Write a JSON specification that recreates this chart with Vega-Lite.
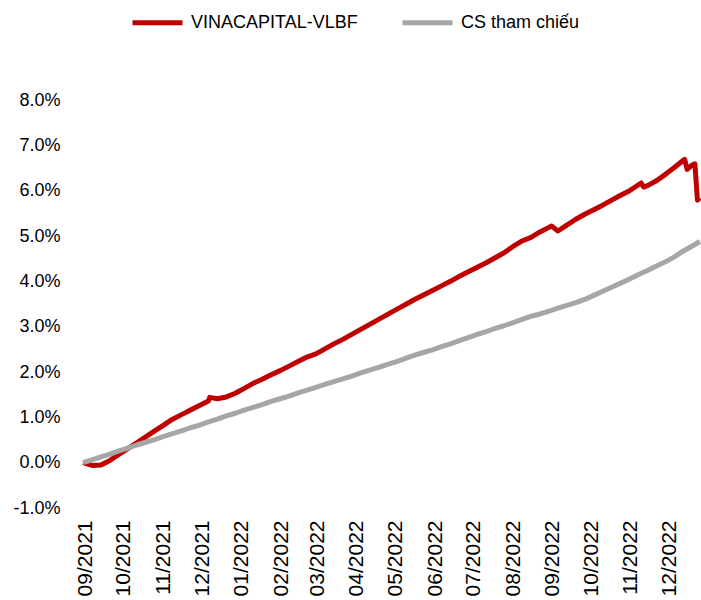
{
  "$schema": "https://vega.github.io/schema/vega-lite/v6.json",
  "width": 617,
  "height": 408,
  "autosize": {"type": "none"},
  "padding": {"left": 83, "top": 100, "right": 1, "bottom": 92},
  "background": "white",
  "config": {
    "view": {"stroke": null},
    "font": "Liberation Sans"
  },
  "datasets": {
    "red": [
      {"d":"2021-08-30","s":"VINACAPITAL-VLBF","v":0},
      {"d":"2021-09-06","s":"VINACAPITAL-VLBF","v":-0.0006},
      {"d":"2021-09-13","s":"VINACAPITAL-VLBF","v":-0.0005},
      {"d":"2021-09-20","s":"VINACAPITAL-VLBF","v":0.0005},
      {"d":"2021-09-27","s":"VINACAPITAL-VLBF","v":0.0018},
      {"d":"2021-10-04","s":"VINACAPITAL-VLBF","v":0.0031},
      {"d":"2021-10-11","s":"VINACAPITAL-VLBF","v":0.0044},
      {"d":"2021-10-18","s":"VINACAPITAL-VLBF","v":0.0057},
      {"d":"2021-10-25","s":"VINACAPITAL-VLBF","v":0.0070},
      {"d":"2021-11-01","s":"VINACAPITAL-VLBF","v":0.0083},
      {"d":"2021-11-08","s":"VINACAPITAL-VLBF","v":0.0096},
      {"d":"2021-11-15","s":"VINACAPITAL-VLBF","v":0.0106},
      {"d":"2021-11-22","s":"VINACAPITAL-VLBF","v":0.0116},
      {"d":"2021-11-29","s":"VINACAPITAL-VLBF","v":0.0126},
      {"d":"2021-12-06","s":"VINACAPITAL-VLBF","v":0.0136},
      {"d":"2021-12-07","s":"VINACAPITAL-VLBF","v":0.0144},
      {"d":"2021-12-13","s":"VINACAPITAL-VLBF","v":0.0141},
      {"d":"2021-12-20","s":"VINACAPITAL-VLBF","v":0.0145},
      {"d":"2021-12-27","s":"VINACAPITAL-VLBF","v":0.0153},
      {"d":"2022-01-03","s":"VINACAPITAL-VLBF","v":0.0164},
      {"d":"2022-01-10","s":"VINACAPITAL-VLBF","v":0.0175},
      {"d":"2022-01-17","s":"VINACAPITAL-VLBF","v":0.0184},
      {"d":"2022-01-24","s":"VINACAPITAL-VLBF","v":0.0194},
      {"d":"2022-01-31","s":"VINACAPITAL-VLBF","v":0.0203},
      {"d":"2022-02-07","s":"VINACAPITAL-VLBF","v":0.0213},
      {"d":"2022-02-14","s":"VINACAPITAL-VLBF","v":0.0223},
      {"d":"2022-02-21","s":"VINACAPITAL-VLBF","v":0.0233},
      {"d":"2022-02-28","s":"VINACAPITAL-VLBF","v":0.0240},
      {"d":"2022-03-07","s":"VINACAPITAL-VLBF","v":0.0251},
      {"d":"2022-03-14","s":"VINACAPITAL-VLBF","v":0.0262},
      {"d":"2022-03-21","s":"VINACAPITAL-VLBF","v":0.0272},
      {"d":"2022-03-28","s":"VINACAPITAL-VLBF","v":0.0283},
      {"d":"2022-04-04","s":"VINACAPITAL-VLBF","v":0.0294},
      {"d":"2022-04-11","s":"VINACAPITAL-VLBF","v":0.0305},
      {"d":"2022-04-18","s":"VINACAPITAL-VLBF","v":0.0316},
      {"d":"2022-04-25","s":"VINACAPITAL-VLBF","v":0.0327},
      {"d":"2022-05-02","s":"VINACAPITAL-VLBF","v":0.0338},
      {"d":"2022-05-09","s":"VINACAPITAL-VLBF","v":0.0349},
      {"d":"2022-05-16","s":"VINACAPITAL-VLBF","v":0.0360},
      {"d":"2022-05-23","s":"VINACAPITAL-VLBF","v":0.0370},
      {"d":"2022-05-30","s":"VINACAPITAL-VLBF","v":0.0380},
      {"d":"2022-06-06","s":"VINACAPITAL-VLBF","v":0.0390},
      {"d":"2022-06-13","s":"VINACAPITAL-VLBF","v":0.0400},
      {"d":"2022-06-20","s":"VINACAPITAL-VLBF","v":0.0411},
      {"d":"2022-06-27","s":"VINACAPITAL-VLBF","v":0.0421},
      {"d":"2022-07-04","s":"VINACAPITAL-VLBF","v":0.0431},
      {"d":"2022-07-11","s":"VINACAPITAL-VLBF","v":0.0441},
      {"d":"2022-07-18","s":"VINACAPITAL-VLBF","v":0.0452},
      {"d":"2022-07-25","s":"VINACAPITAL-VLBF","v":0.0463},
      {"d":"2022-08-01","s":"VINACAPITAL-VLBF","v":0.0477},
      {"d":"2022-08-08","s":"VINACAPITAL-VLBF","v":0.0489},
      {"d":"2022-08-15","s":"VINACAPITAL-VLBF","v":0.0497},
      {"d":"2022-08-22","s":"VINACAPITAL-VLBF","v":0.0509},
      {"d":"2022-08-29","s":"VINACAPITAL-VLBF","v":0.0519},
      {"d":"2022-08-31","s":"VINACAPITAL-VLBF","v":0.0522},
      {"d":"2022-09-05","s":"VINACAPITAL-VLBF","v":0.0511},
      {"d":"2022-09-12","s":"VINACAPITAL-VLBF","v":0.0524},
      {"d":"2022-09-19","s":"VINACAPITAL-VLBF","v":0.0537},
      {"d":"2022-09-26","s":"VINACAPITAL-VLBF","v":0.0548},
      {"d":"2022-10-03","s":"VINACAPITAL-VLBF","v":0.0558},
      {"d":"2022-10-10","s":"VINACAPITAL-VLBF","v":0.0568},
      {"d":"2022-10-17","s":"VINACAPITAL-VLBF","v":0.0579},
      {"d":"2022-10-24","s":"VINACAPITAL-VLBF","v":0.0590},
      {"d":"2022-10-31","s":"VINACAPITAL-VLBF","v":0.0600},
      {"d":"2022-11-07","s":"VINACAPITAL-VLBF","v":0.0613},
      {"d":"2022-11-09","s":"VINACAPITAL-VLBF","v":0.0617},
      {"d":"2022-11-11","s":"VINACAPITAL-VLBF","v":0.0608},
      {"d":"2022-11-14","s":"VINACAPITAL-VLBF","v":0.0611},
      {"d":"2022-11-21","s":"VINACAPITAL-VLBF","v":0.0622},
      {"d":"2022-11-28","s":"VINACAPITAL-VLBF","v":0.0636},
      {"d":"2022-12-05","s":"VINACAPITAL-VLBF","v":0.0651},
      {"d":"2022-12-12","s":"VINACAPITAL-VLBF","v":0.0667},
      {"d":"2022-12-13","s":"VINACAPITAL-VLBF","v":0.0669},
      {"d":"2022-12-15","s":"VINACAPITAL-VLBF","v":0.0647},
      {"d":"2022-12-19","s":"VINACAPITAL-VLBF","v":0.0657},
      {"d":"2022-12-21","s":"VINACAPITAL-VLBF","v":0.0659},
      {"d":"2022-12-23","s":"VINACAPITAL-VLBF","v":0.0579},
      {"d":"2022-12-25","s":"VINACAPITAL-VLBF","v":0.0584}
    ],
    "gray": [
      {"d":"2021-08-30","s":"CS tham chiếu","v":0},
      {"d":"2021-09-06","s":"CS tham chiếu","v":0.0006},
      {"d":"2021-09-13","s":"CS tham chiếu","v":0.0013},
      {"d":"2021-09-20","s":"CS tham chiếu","v":0.0019},
      {"d":"2021-09-27","s":"CS tham chiếu","v":0.0026},
      {"d":"2021-10-04","s":"CS tham chiếu","v":0.0032},
      {"d":"2021-10-11","s":"CS tham chiếu","v":0.0039},
      {"d":"2021-10-18","s":"CS tham chiếu","v":0.0045},
      {"d":"2021-10-25","s":"CS tham chiếu","v":0.0051},
      {"d":"2021-11-01","s":"CS tham chiếu","v":0.0058},
      {"d":"2021-11-08","s":"CS tham chiếu","v":0.0064},
      {"d":"2021-11-15","s":"CS tham chiếu","v":0.0070},
      {"d":"2021-11-22","s":"CS tham chiếu","v":0.0077},
      {"d":"2021-11-29","s":"CS tham chiếu","v":0.0083},
      {"d":"2021-12-06","s":"CS tham chiếu","v":0.0090},
      {"d":"2021-12-13","s":"CS tham chiếu","v":0.0096},
      {"d":"2021-12-20","s":"CS tham chiếu","v":0.0103},
      {"d":"2021-12-27","s":"CS tham chiếu","v":0.0109},
      {"d":"2022-01-03","s":"CS tham chiếu","v":0.0116},
      {"d":"2022-01-10","s":"CS tham chiếu","v":0.0122},
      {"d":"2022-01-17","s":"CS tham chiếu","v":0.0128},
      {"d":"2022-01-24","s":"CS tham chiếu","v":0.0135},
      {"d":"2022-01-31","s":"CS tham chiếu","v":0.0141},
      {"d":"2022-02-07","s":"CS tham chiếu","v":0.0147},
      {"d":"2022-02-14","s":"CS tham chiếu","v":0.0154},
      {"d":"2022-02-21","s":"CS tham chiếu","v":0.0160},
      {"d":"2022-02-28","s":"CS tham chiếu","v":0.0166},
      {"d":"2022-03-07","s":"CS tham chiếu","v":0.0173},
      {"d":"2022-03-14","s":"CS tham chiếu","v":0.0179},
      {"d":"2022-03-21","s":"CS tham chiếu","v":0.0185},
      {"d":"2022-03-28","s":"CS tham chiếu","v":0.0191},
      {"d":"2022-04-04","s":"CS tham chiếu","v":0.0198},
      {"d":"2022-04-11","s":"CS tham chiếu","v":0.0204},
      {"d":"2022-04-18","s":"CS tham chiếu","v":0.0210},
      {"d":"2022-04-25","s":"CS tham chiếu","v":0.0217},
      {"d":"2022-05-02","s":"CS tham chiếu","v":0.0223},
      {"d":"2022-05-09","s":"CS tham chiếu","v":0.0230},
      {"d":"2022-05-16","s":"CS tham chiếu","v":0.0237},
      {"d":"2022-05-23","s":"CS tham chiếu","v":0.0243},
      {"d":"2022-05-30","s":"CS tham chiếu","v":0.0249},
      {"d":"2022-06-06","s":"CS tham chiếu","v":0.0256},
      {"d":"2022-06-13","s":"CS tham chiếu","v":0.0262},
      {"d":"2022-06-20","s":"CS tham chiếu","v":0.0269},
      {"d":"2022-06-27","s":"CS tham chiếu","v":0.0276},
      {"d":"2022-07-04","s":"CS tham chiếu","v":0.0283},
      {"d":"2022-07-11","s":"CS tham chiếu","v":0.0289},
      {"d":"2022-07-18","s":"CS tham chiếu","v":0.0296},
      {"d":"2022-07-25","s":"CS tham chiếu","v":0.0302},
      {"d":"2022-08-01","s":"CS tham chiếu","v":0.0309},
      {"d":"2022-08-08","s":"CS tham chiếu","v":0.0316},
      {"d":"2022-08-15","s":"CS tham chiếu","v":0.0323},
      {"d":"2022-08-22","s":"CS tham chiếu","v":0.0328},
      {"d":"2022-08-29","s":"CS tham chiếu","v":0.0334},
      {"d":"2022-09-05","s":"CS tham chiếu","v":0.0341},
      {"d":"2022-09-12","s":"CS tham chiếu","v":0.0347},
      {"d":"2022-09-19","s":"CS tham chiếu","v":0.0353},
      {"d":"2022-09-26","s":"CS tham chiếu","v":0.0360},
      {"d":"2022-10-03","s":"CS tham chiếu","v":0.0369},
      {"d":"2022-10-10","s":"CS tham chiếu","v":0.0378},
      {"d":"2022-10-17","s":"CS tham chiếu","v":0.0387},
      {"d":"2022-10-24","s":"CS tham chiếu","v":0.0396},
      {"d":"2022-10-31","s":"CS tham chiếu","v":0.0405},
      {"d":"2022-11-07","s":"CS tham chiếu","v":0.0415},
      {"d":"2022-11-14","s":"CS tham chiếu","v":0.0424},
      {"d":"2022-11-21","s":"CS tham chiếu","v":0.0434},
      {"d":"2022-11-28","s":"CS tham chiếu","v":0.0443},
      {"d":"2022-12-05","s":"CS tham chiếu","v":0.0454},
      {"d":"2022-12-12","s":"CS tham chiếu","v":0.0467},
      {"d":"2022-12-19","s":"CS tham chiếu","v":0.0478},
      {"d":"2022-12-25","s":"CS tham chiếu","v":0.0488}
    ]
  },
  "layer": [
    {
      "mark": {"type": "rule", "color": "#D9D9D9", "strokeWidth": 1},
      "encoding": {"y": {"datum": 0, "type": "quantitative"}}
    },
    {
      "data": {"name": "red"},
      "mark": {"type": "line", "strokeWidth": 5, "strokeJoin": "round"},
      "encoding": {
        "x": {"field": "d", "type": "temporal"},
        "y": {"field": "v", "type": "quantitative"},
        "color": {"field": "s", "type": "nominal"}
      }
    },
    {
      "data": {"name": "gray"},
      "mark": {"type": "line", "strokeWidth": 5, "strokeJoin": "round"},
      "encoding": {
        "x": {"field": "d", "type": "temporal"},
        "y": {"field": "v", "type": "quantitative"},
        "color": {"field": "s", "type": "nominal"}
      }
    }
  ],
  "encoding": {
    "x": {
      "field": "d",
      "type": "temporal",
      "scale": {
        "type": "utc",
        "nice": false,
        "domain": [
          {"year": 2021, "month": 8, "date": 30, "utc": true},
          {"year": 2022, "month": 12, "date": 25, "utc": true}
        ]
      },
      "axis": {
        "title": null,
        "format": "%m/%Y",
        "tickCount": {"interval": "month", "step": 1},
        "labelAngle": -90,
        "labelFontSize": 21,
        "labelColor": "#000000",
        "labelPadding": 12,
        "ticks": false,
        "domain": false,
        "grid": false,
        "labelOverlap": false,
        "labelBound": false,
        "labelFlush": false
      }
    },
    "y": {
      "type": "quantitative",
      "scale": {"domain": [-0.01, 0.08], "nice": false, "zero": false},
      "axis": {
        "title": null,
        "values": [-0.01, 0, 0.01, 0.02, 0.03, 0.04, 0.05, 0.06, 0.07, 0.08],
        "labelExpr": "replace(format(datum.value, '.1%'), '−', '-')",
        "labelFontSize": 18,
        "labelColor": "#000000",
        "labelPadding": 23,
        "ticks": false,
        "domain": false,
        "grid": false
      }
    },
    "color": {
      "type": "nominal",
      "scale": {
        "domain": ["VINACAPITAL-VLBF", "CS tham chiếu"],
        "range": ["#C00000", "#A6A6A6"]
      },
      "legend": {
        "title": null,
        "orient": "none",
        "direction": "horizontal",
        "legendX": 47,
        "legendY": -105,
        "symbolType": "stroke",
        "symbolSize": 2500,
        "symbolStrokeWidth": 5,
        "labelFontSize": 18,
        "labelColor": "#000000",
        "labelOffset": 6,
        "columnPadding": 34,
        "labelLimit": 400
      }
    }
  }
}
